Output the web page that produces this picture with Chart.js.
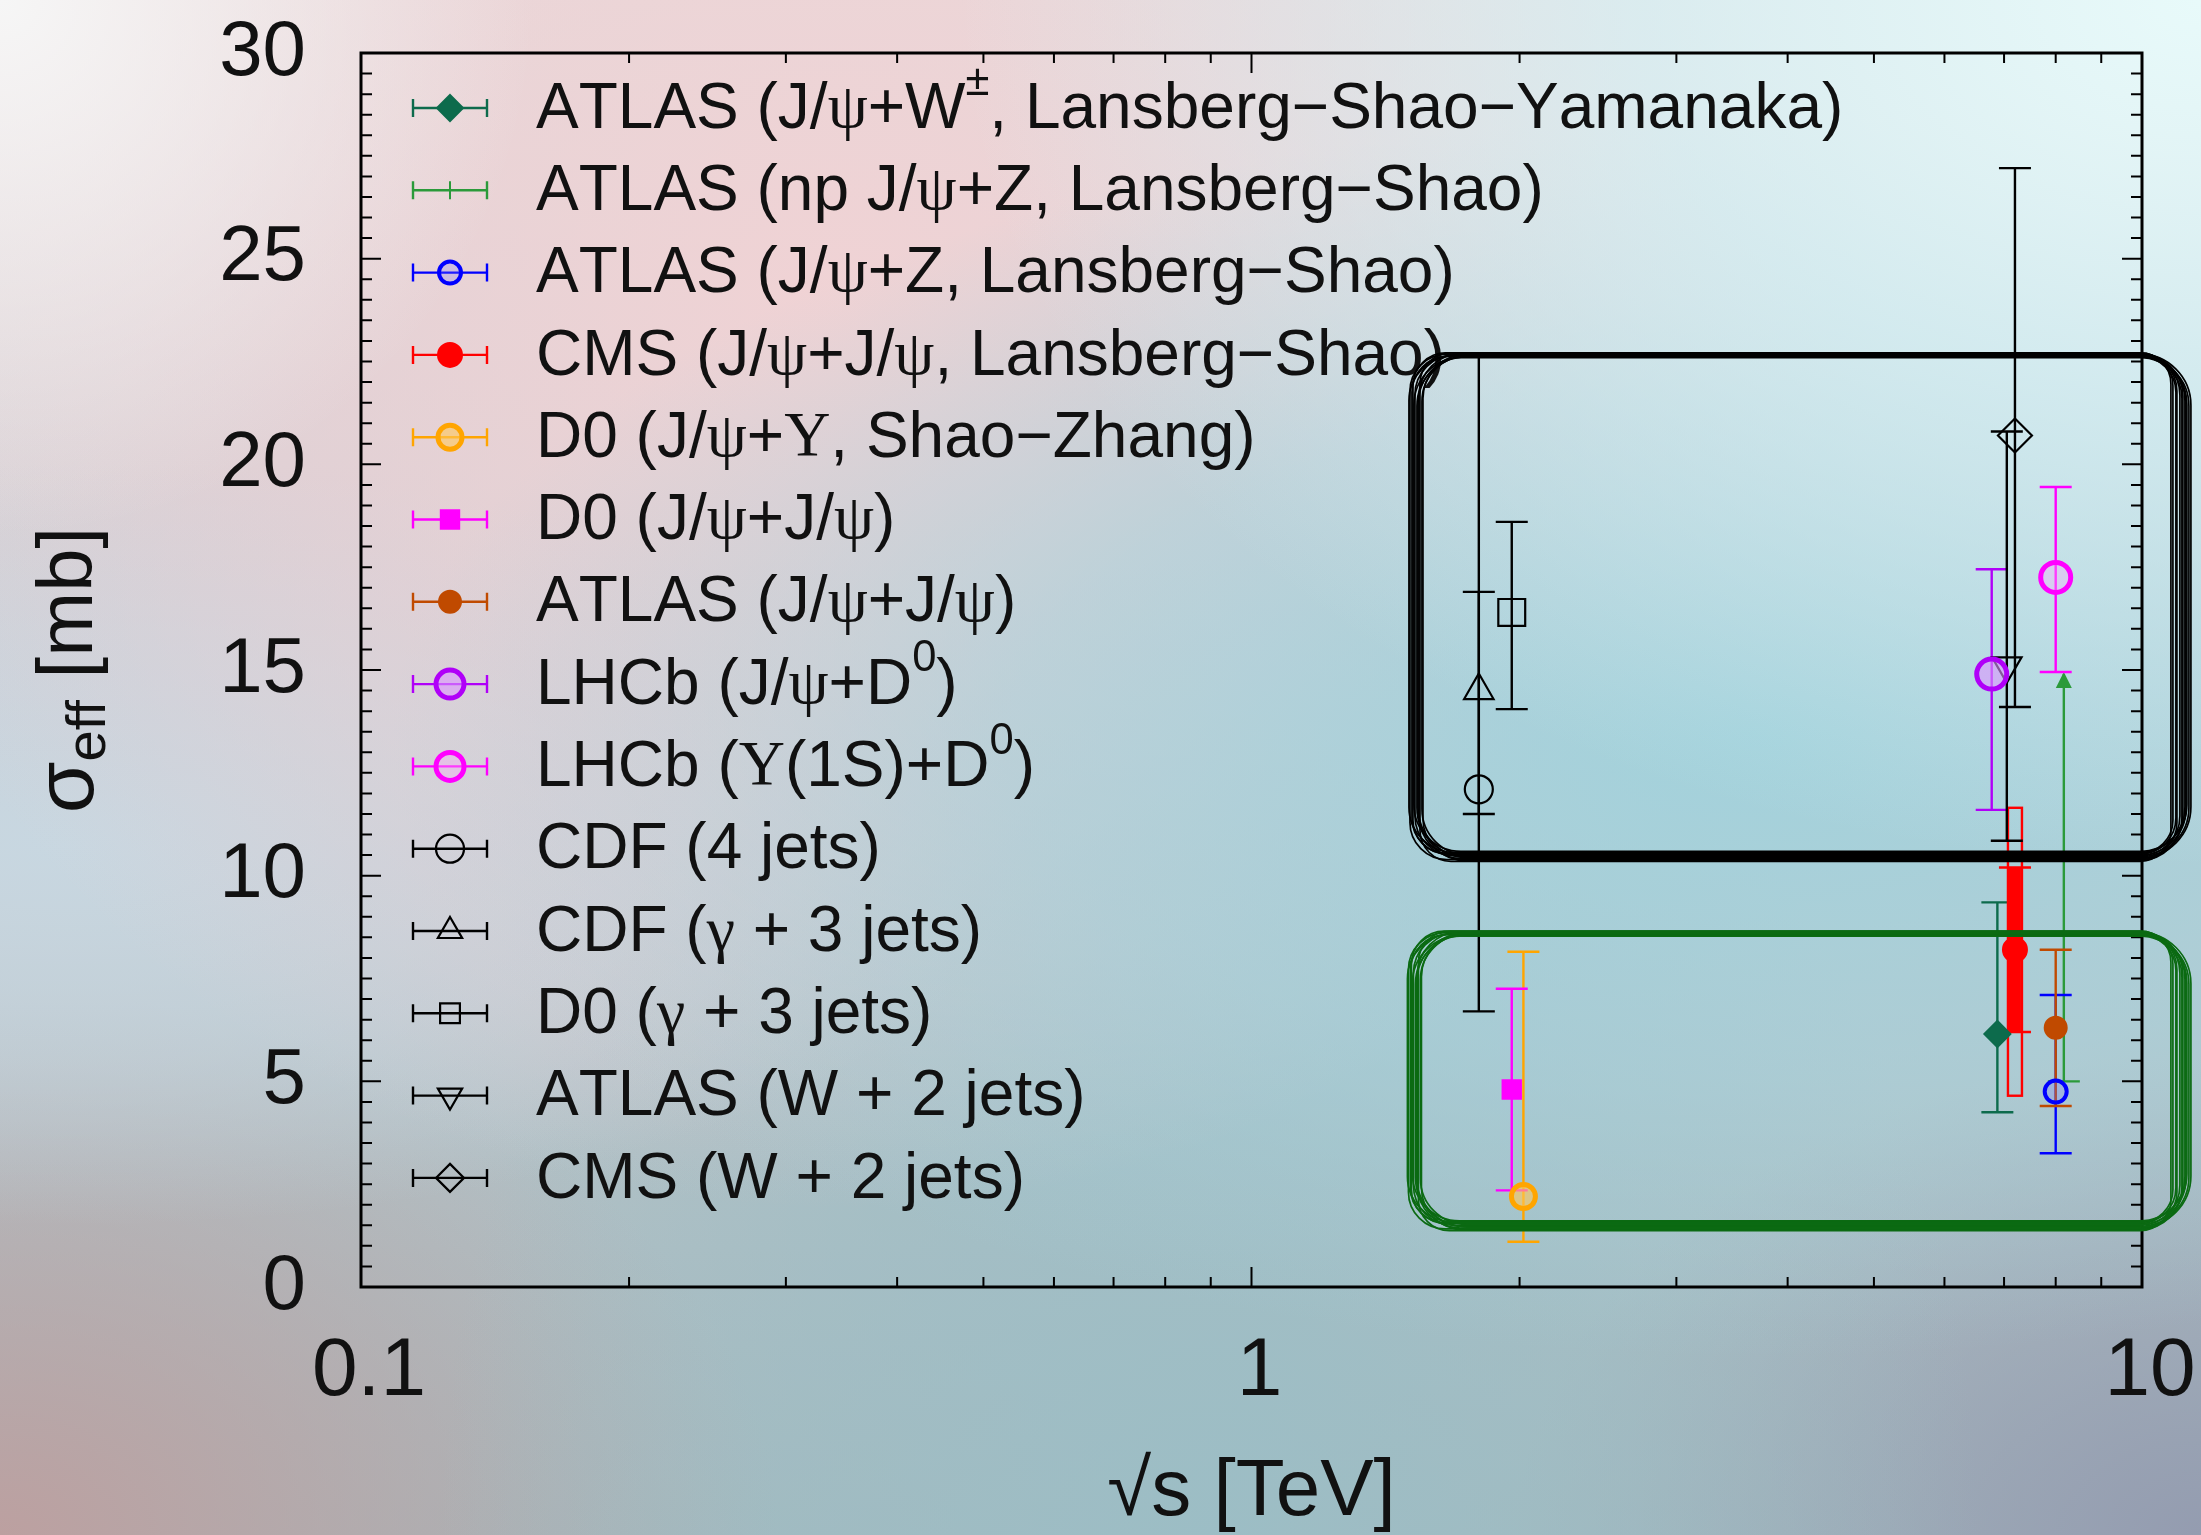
<!DOCTYPE html>
<html>
<head>
<meta charset="utf-8">
<script src="https://cdn.jsdelivr.net/npm/chart.js@4.4.1/dist/chart.umd.min.js"></script>
<style>
    html, body { margin: 0; padding: 0; }
    body {
        width: 2201px;
        height: 1535px;
        overflow: hidden;
        background:
            radial-gradient(circle at 0% 0%, rgba(246,246,246,1) 0%, rgba(246,246,246,0) 20%),
            radial-gradient(ellipse at 100% 0%, rgba(232,250,250,1) 0%, rgba(215,240,244,0.8) 18%, rgba(215,240,244,0) 40%),
            radial-gradient(ellipse at 80% 48%, rgba(160,210,220,0.95) 0%, rgba(165,210,220,0.6) 30%, rgba(165,210,220,0) 55%),
            radial-gradient(ellipse at 38% 20%, rgba(242,210,212,0.9) 0%, rgba(235,208,212,0.5) 30%, rgba(235,208,212,0) 52%),
            radial-gradient(ellipse at 3% 55%, rgba(200,216,226,0.95) 0%, rgba(200,216,226,0.5) 18%, rgba(200,216,226,0) 32%),
            radial-gradient(ellipse at 55% 100%, rgba(155,190,198,0.9) 0%, rgba(155,190,198,0.5) 25%, rgba(155,190,198,0) 45%),
            radial-gradient(ellipse at 0% 100%, rgba(188,160,160,1) 0%, rgba(188,160,160,0) 25%),
            radial-gradient(ellipse at 100% 100%, rgba(148,156,176,1) 0%, rgba(148,156,176,0) 22%),
            linear-gradient(180deg, #e8dcdc 0%, #cfcdd3 45%, #b2c0c5 75%, #a6b8bd 100%);
    }
    #graph-wrap { position: relative; width: 2201px; height: 1535px; }
</style>
</head>
<body>
<div id="graph-wrap"><canvas id="graph-1-grid" width="2201" height="1535"></canvas></div>
<script>
// Legend text for every series (^{..} is a superscript)
const seriesLabels = [
    'ATLAS (J/ψ+W^{±}, Lansberg−Shao−Yamanaka)',
    'ATLAS (np J/ψ+Z, Lansberg−Shao)',
    'ATLAS (J/ψ+Z, Lansberg−Shao)',
    'CMS (J/ψ+J/ψ, Lansberg−Shao)',
    'D0 (J/ψ+Υ, Shao−Zhang)',
    'D0 (J/ψ+J/ψ)',
    'ATLAS (J/ψ+J/ψ)',
    'LHCb (J/ψ+D^{0})',
    'LHCb (Υ(1S)+D^{0})',
    'CDF (4 jets)',
    'CDF (γ + 3 jets)',
    'D0 (γ + 3 jets)',
    'ATLAS (W + 2 jets)',
    'CMS (W + 2 jets)'
];

// Collision energy sqrt(s) in TeV
const sqrtS = [6.88, 8.17, 8.0, 7.2, 2.02, 1.96, 8.0, 6.78, 8.0, 1.8, 1.8, 1.96, 7.05, 7.2];
// Central sigma_eff values in mb
const sigmaEff = [6.15, 5.0, 4.75, 8.2, 2.2, 4.8, 6.3, 14.9, 17.25, 12.1, 14.5, 16.4, 15.1, 20.7];
// Lower and upper ends of the error bars
const sigmaLow = [4.25, 5.0, 3.25, 6.2, 1.1, 2.35, 4.4, 11.6, 14.95, 6.7, 11.5, 14.05, 10.85, 14.1];
const sigmaHigh = [9.35, 14.9, 7.1, 10.2, 8.15, 7.25, 8.2, 17.45, 19.45, 22.7, 16.9, 18.6, 20.8, 27.2];

// Open box around the CMS J/psi+J/psi point (total uncertainty)
const cmsBandLow = 4.65;
const cmsBandHigh = 11.65;

// Tick labels
const xTickLabels = [0.1, 1, 10];
const yTickLabels = [0, 5, 10, 15, 20, 25, 30];

// Hand drawn boxes: [xMin, xMax, yMin, yMax] in data units
const blackBox = [1.526, 11.03, 10.48, 22.66];
const greenBox = [1.52, 11.03, 1.5, 8.6];

// Marker styles
const seriesColors = ['#0d6b4c', '#2b9a3a', '#0000ff', '#ff0000', '#ffa500', '#ff00ff', '#c04a00',
    '#b000f8', '#ff00ff', '#000000', '#000000', '#000000', '#000000', '#000000'];
const seriesFills = ['#0d6b4c', 'rgba(0,0,0,0)', 'rgba(120,120,255,0.25)', '#ff0000', 'rgba(255,200,90,0.6)',
    '#ff00ff', '#c04a00', 'rgba(220,150,255,0.6)', 'rgba(255,170,255,0.35)',
    'rgba(0,0,0,0)', 'rgba(0,0,0,0)', 'rgba(0,0,0,0)', 'rgba(0,0,0,0)', 'rgba(0,0,0,0)'];
const seriesStyles = ['rectRot', 'cross', 'circle', 'circle', 'circle', 'rect', 'circle',
    'circle', 'circle', 'circle', 'triangle', 'rect', 'triangle', 'rectRot'];
const seriesRotation = [0, 0, 0, 0, 0, 0, 0, 0, 0, 0, 0, 0, 180, 0];
const seriesRadius = [13, 0, 11, 12, 12, 13, 11, 15, 15, 14, 17, 19, 17, 17];
const seriesBorder = [2, 2, 4, 2, 5, 2, 2, 5, 5, 2.2, 2.2, 2.2, 2.2, 2.2];

// Build the datasets from the arrays above
let scatterData = {
    datasets: seriesLabels.map((label, i) => ({
        label: label,
        data: [{x: sqrtS[i], y: sigmaEff[i], yMin: sigmaLow[i], yMax: sigmaHigh[i]}],
        pointStyle: seriesStyles[i],
        rotation: seriesRotation[i],
        pointRadius: seriesRadius[i],
        pointHoverRadius: seriesRadius[i],
        pointBorderWidth: seriesBorder[i],
        borderColor: seriesColors[i],
        backgroundColor: seriesFills[i],
        showLine: false,
        // the np J/psi+Z entry is a lower limit drawn as an arrow
        arrowUp: i === 1,
        band: i === 3 ? [cmsBandLow, cmsBandHigh] : null
    }))
};
scatterData.datasets[1].pointRadius = 0;

// Draw a marker the same way Chart.js does (used for the legend)
function drawMarker(ctx, style, x, y, r, rotation, fill, stroke, lw) {
    ctx.save();
    ctx.fillStyle = fill;
    ctx.strokeStyle = stroke;
    ctx.lineWidth = lw;
    let rad = (rotation || 0) * Math.PI / 180;
    ctx.beginPath();
    if (style === 'circle') {
        ctx.arc(x, y, r, 0, 2 * Math.PI);
    } else if (style === 'rect') {
        let s = r * Math.SQRT1_2;
        ctx.rect(x - s, y - s, 2 * s, 2 * s);
    } else if (style === 'rectRot') {
        ctx.moveTo(x, y - r);
        ctx.lineTo(x + r, y);
        ctx.lineTo(x, y + r);
        ctx.lineTo(x - r, y);
        ctx.closePath();
    } else if (style === 'triangle') {
        ctx.moveTo(x + Math.sin(rad) * r, y - Math.cos(rad) * r);
        rad += 2 * Math.PI / 3;
        ctx.lineTo(x + Math.sin(rad) * r, y - Math.cos(rad) * r);
        rad += 2 * Math.PI / 3;
        ctx.lineTo(x + Math.sin(rad) * r, y - Math.cos(rad) * r);
        ctx.closePath();
    } else if (style === 'cross') {
        ctx.moveTo(x, y - r);
        ctx.lineTo(x, y + r);
    }
    ctx.fill();
    ctx.stroke();
    ctx.restore();
}

// Draw text with ^{} superscripts; greek letters in a serif face
function drawRichText(ctx, text, x, y, size) {
    let parts = [];
    let re = /\^\{([^}]*)\}/g;
    let last = 0, m;
    while ((m = re.exec(text)) !== null) {
        parts.push({t: text.slice(last, m.index), sup: false});
        parts.push({t: m[1], sup: true});
        last = re.lastIndex;
    }
    parts.push({t: text.slice(last), sup: false});
    ctx.textBaseline = 'middle';
    ctx.textAlign = 'left';
    parts.forEach(p => {
        for (const ch of p.t) {
            let sz = p.sup ? size * 0.68 : size;
            let greek = 'ψΥγ'.indexOf(ch) >= 0;
            ctx.font = sz + 'px ' + (greek ? '"Liberation Serif"' : '"Liberation Sans"');
            let dy = p.sup ? -size * 0.42 : 0;
            ctx.fillText(ch, x, y + dy);
            x += ctx.measureText(ch).width;
        }
    });
    return x;
}

// Vertical error bars, the CMS box and the arrow, drawn under the markers
const errorBarPlugin = {
    id: 'errorBars',
    beforeDatasetsDraw(chart) {
        const {ctx, scales: {x, y}} = chart;
        chart.data.datasets.forEach(ds => {
            ds.data.forEach(p => {
                let px = x.getPixelForValue(p.x);
                let top = y.getPixelForValue(p.yMax);
                let bot = y.getPixelForValue(p.yMin);
                ctx.save();
                ctx.strokeStyle = ds.borderColor;
                ctx.fillStyle = ds.borderColor;
                ctx.lineWidth = 2.4;
                if (ds.band) {
                    // open box for total uncertainty + thick stat bar
                    let b1 = y.getPixelForValue(ds.band[1]);
                    let b0 = y.getPixelForValue(ds.band[0]);
                    ctx.strokeRect(px - 7, b1, 14, b0 - b1);
                    ctx.fillRect(px - 6, top, 12, bot - top);
                }
                ctx.beginPath();
                ctx.moveTo(px, top);
                ctx.lineTo(px, bot);
                ctx.moveTo(px - 16, bot);
                ctx.lineTo(px + 16, bot);
                if (!ds.arrowUp) {
                    ctx.moveTo(px - 16, top);
                    ctx.lineTo(px + 16, top);
                }
                ctx.stroke();
                if (ds.arrowUp) {
                    ctx.beginPath();
                    ctx.moveTo(px, top - 2);
                    ctx.lineTo(px - 8, top + 14);
                    ctx.lineTo(px + 8, top + 14);
                    ctx.closePath();
                    ctx.fill();
                }
                ctx.restore();
            });
        });
    }
};

// Frame with inward ticks on all four sides
const framePlugin = {
    id: 'frame',
    afterDatasetsDraw(chart) {
        const {ctx, chartArea: a, scales: {x, y}} = chart;
        ctx.save();
        ctx.strokeStyle = '#000';
        ctx.lineWidth = 3;
        ctx.strokeRect(a.left, a.top, a.right - a.left, a.bottom - a.top);
        ctx.lineWidth = 2;
        ctx.beginPath();
        // y ticks every 0.5 mb, longer ones on the labels
        for (let v = 0; v <= 30.001; v += 0.5) {
            let py = y.getPixelForValue(v);
            let len = yTickLabels.includes(Math.round(v * 10) / 10) ? 20 : 11;
            ctx.moveTo(a.left, py); ctx.lineTo(a.left + len, py);
            ctx.moveTo(a.right, py); ctx.lineTo(a.right - len, py);
        }
        // x ticks at 1..9 per decade
        [0.1, 1].forEach(dec => {
            for (let k = 1; k <= 10; k++) {
                let v = dec * k;
                let px = x.getPixelForValue(v);
                let len = (k === 1 || k === 10) ? 20 : 10;
                ctx.moveTo(px, a.bottom); ctx.lineTo(px, a.bottom - len);
                ctx.moveTo(px, a.top); ctx.lineTo(px, a.top + len);
            }
        });
        ctx.stroke();
        ctx.restore();
    }
};

// Legend in the upper left corner and the y title
const legendPlugin = {
    id: 'richLegend',
    afterDraw(chart) {
        const {ctx, chartArea: a} = chart;
        ctx.save();
        chart.data.datasets.forEach((ds, i) => {
            let ly = a.top + 55 + i * 82.3;
            let mx = 450;
            ctx.strokeStyle = ds.borderColor;
            ctx.lineWidth = 2.4;
            ctx.beginPath();
            ctx.moveTo(413, ly); ctx.lineTo(487, ly);
            ctx.moveTo(413, ly - 9); ctx.lineTo(413, ly + 9);
            ctx.moveTo(487, ly - 9); ctx.lineTo(487, ly + 9);
            ctx.stroke();
            let r = ds.pointRadius || 9;
            drawMarker(ctx, ds.pointStyle, mx, ly, Math.min(r, 14), ds.rotation,
                ds.backgroundColor, ds.borderColor, ds.pointBorderWidth);
            ctx.fillStyle = '#111';
            drawRichText(ctx, ds.label, 536, ly + 2, 64);
        });

        // y axis title: sigma_eff [mb]
        ctx.translate(70, (a.top + a.bottom) / 2);
        ctx.rotate(-Math.PI / 2);
        ctx.fillStyle = '#111';
        ctx.textBaseline = 'middle';
        ctx.font = '84px "Liberation Sans"';
        let w1 = ctx.measureText('σ').width;
        ctx.font = '56px "Liberation Sans"';
        let w2 = ctx.measureText('eff').width;
        ctx.font = '78px "Liberation Sans"';
        let w3 = ctx.measureText(' [mb]').width;
        let sx = -(w1 + w2 + w3) / 2;
        ctx.font = '84px "Liberation Sans"';
        ctx.fillText('σ', sx, 0);
        ctx.font = '56px "Liberation Sans"';
        ctx.fillText('eff', sx + w1, 20);
        ctx.font = '78px "Liberation Sans"';
        ctx.fillText(' [mb]', sx + w1 + w2, 0);
        ctx.restore();
    }
};

// Sketchy rounded boxes, several loose strokes each
const sketchPlugin = {
    id: 'sketchBoxes',
    afterDraw(chart) {
        const {ctx, scales: {x, y}} = chart;
        // offsets for left, top, right, bottom edge of every stroke
        const jitter = [[0, 0, 0, 0], [4, -2, 3, 3], [-3, 2, -4, -2], [7, 1, 6, -1], [-5, -1, -3, 4],
            [2, 3, 9, 1], [-2, -3, -7, -3], [8, 2, 2, 5], [3, -1, 11, 2], [-6, 1, 5, -4],
            [5, -3, -9, 6], [-1, 4, 7, -5]];
        [[blackBox, '#000000'], [greenBox, '#0b6a12']].forEach(([box, col]) => {
            let l = x.getPixelForValue(box[0]);
            let r = x.getPixelForValue(box[1]);
            let t = y.getPixelForValue(box[3]);
            let b = y.getPixelForValue(box[2]);
            ctx.save();
            ctx.strokeStyle = col;
            ctx.lineWidth = 1.7;
            jitter.forEach(j => {
                let l2 = l + j[0], t2 = t + j[1] * 0.7, r2 = r + j[2], b2 = b + j[3] * 0.9;
                ctx.beginPath();
                ctx.roundRect(l2, t2, r2 - l2, b2 - t2, 40 + j[2]);
                ctx.stroke();
            });
            ctx.restore();
        });
    }
};

// Get the canvas element for the graph
let ctx = document.getElementById('graph-1-grid');

let scatterChart = new Chart(ctx, {
    type: 'scatter',
    data: scatterData,
    plugins: [errorBarPlugin, framePlugin, legendPlugin, sketchPlugin],
    options: {
        responsive: false,
        devicePixelRatio: 1,
        animation: false,
        layout: {
            padding: {top: 53, right: 59, left: 0, bottom: 0}
        },
        plugins: {
            legend: {display: false},
            tooltip: {enabled: false}
        },
        scales: {
            x: {
                type: 'logarithmic',
                min: 0.1,
                max: 10,
                // fixed height, no extra room for the end labels
                afterFit: scale => {
                    scale.height = 248;
                    scale.paddingLeft = 0;
                    scale.paddingRight = 0;
                },
                grid: {display: false, drawTicks: false},
                border: {display: false},
                ticks: {
                    color: '#111',
                    autoSkip: false,
                    maxRotation: 0,
                    padding: 36,
                    labelOffset: 8,
                    font: {family: '"Liberation Sans Narrow", "Liberation Sans"', size: 82},
                    callback: value => xTickLabels.includes(Number(value.toPrecision(3))) ? String(Number(value.toPrecision(3))) : ''
                },
                title: {
                    display: true,
                    text: '√s [TeV]',
                    color: '#111',
                    padding: {top: 0, bottom: 2},
                    font: {family: 'Liberation Sans', size: 80, lineHeight: 1.0}
                }
            },
            y: {
                min: 0,
                max: 30,
                afterFit: scale => {
                    scale.width = 361;
                    scale.paddingTop = 0;
                    scale.paddingBottom = 0;
                },
                grid: {display: false, drawTicks: false},
                border: {display: false},
                ticks: {
                    color: '#111',
                    stepSize: 5,
                    padding: 55,
                    font: {family: 'Liberation Sans', size: 78},
                    callback: value => yTickLabels.includes(value) ? String(value) : ''
                }
            }
        }
    }
});
</script>
</body>
</html>
